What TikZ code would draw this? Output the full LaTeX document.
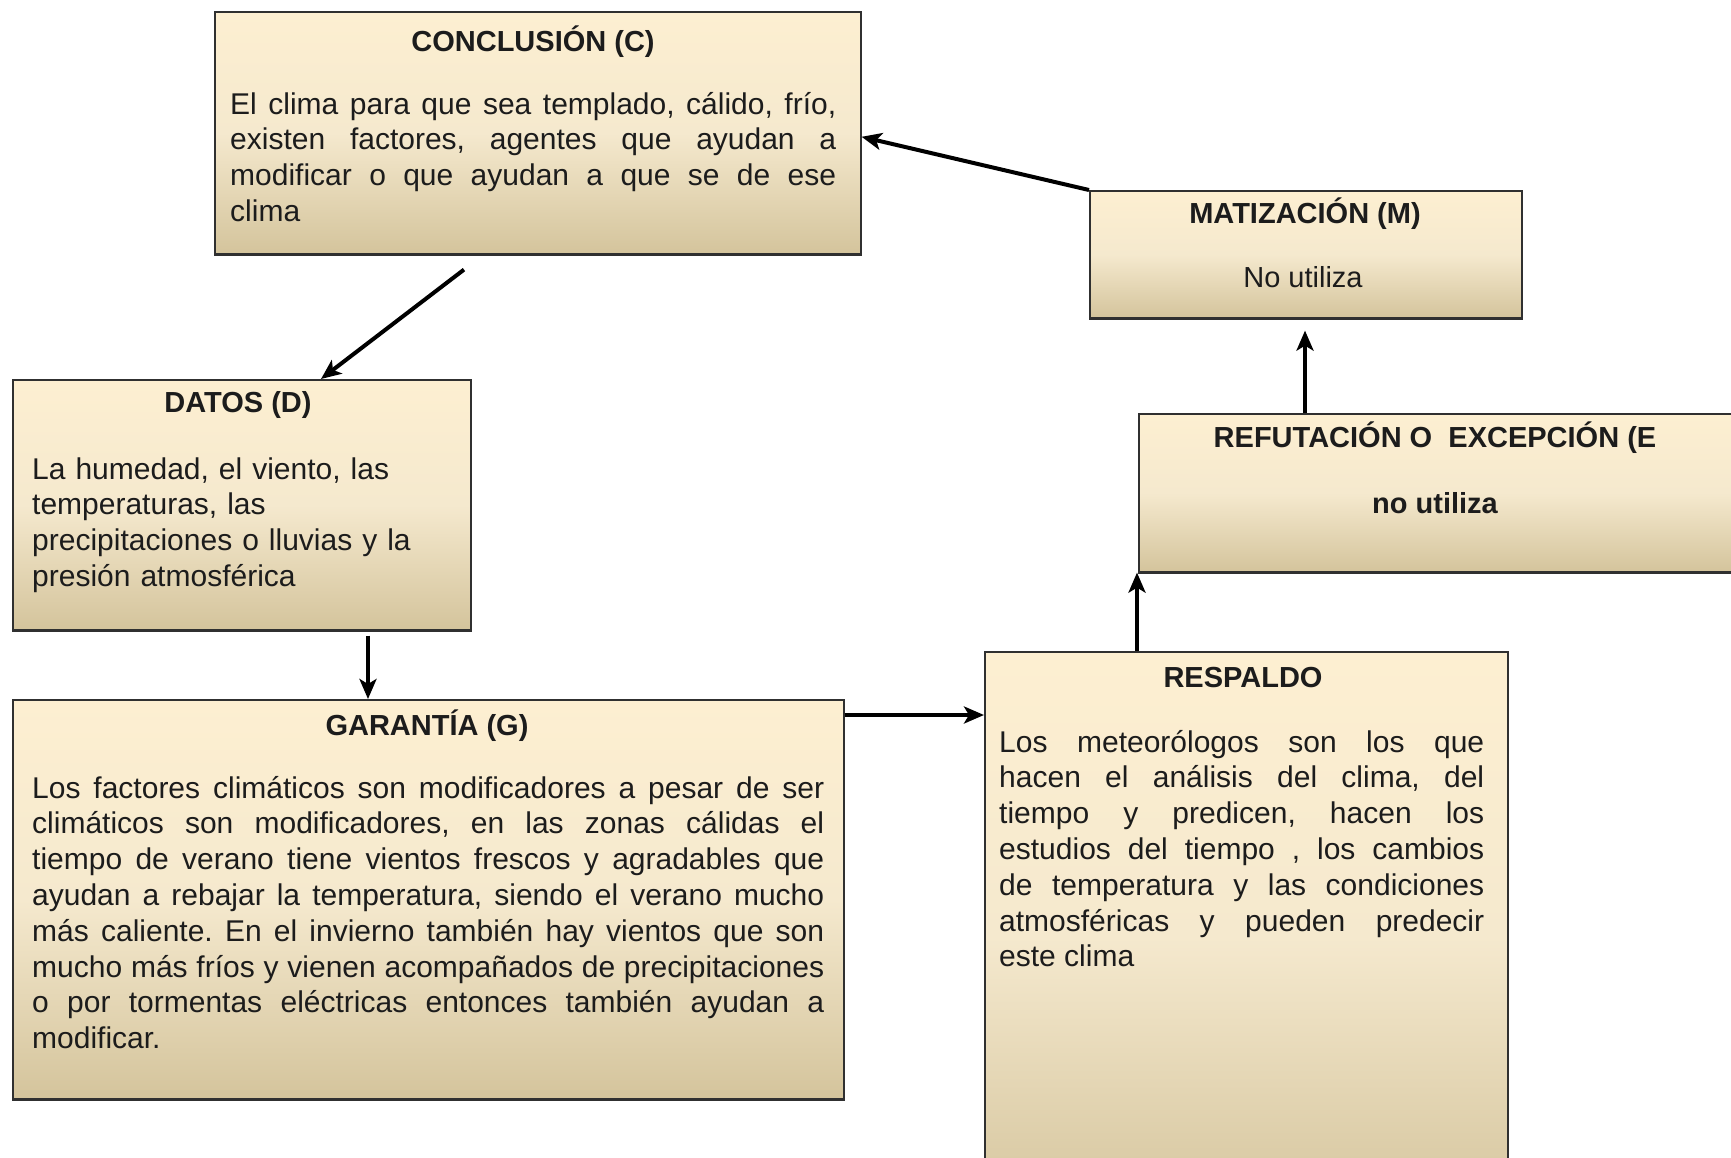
\documentclass[tikz,border=0pt]{standalone}
\usepackage{fontspec}
\setmainfont{Liberation Sans}
\usetikzlibrary{arrows.meta}
\frenchspacing

\definecolor{boxtop}{RGB}{253,239,209}
\definecolor{boxmid}{RGB}{245,233,206}
\definecolor{boxbot}{RGB}{212,196,156}
\definecolor{edge}{RGB}{48,48,48}
\definecolor{ink}{RGB}{28,28,28}

% cream panel fading to tan towards the bottom edge
\pgfdeclareverticalshading{cream}{100bp}{color(0bp)=(boxbot); color(25bp)=(boxbot); color(50bp)=(boxmid); color(75bp)=(boxtop); color(100bp)=(boxtop)}

\tikzset{
  panel/.style={rectangle, draw=edge, line width=1.6pt, shading=cream,
    inner sep=0pt, anchor=north west},
  title/.style={font=\fontsize{29}{34}\selectfont\bfseries, text=ink, inner sep=0pt},
  plain/.style={font=\fontsize{29}{34}\selectfont, text=ink, inner sep=0pt},
  body/.style={font=\fontsize{30}{35.8}\selectfont, text=ink, inner sep=0pt,
    anchor=base west},
  link/.style={line width=4pt, draw=black,
    -{Stealth[length=20pt,width=17pt,inset=5pt]}}
}

\begin{document}
\begin{tikzpicture}[x=1pt,y=-1pt]
\useasboundingbox (0,0) rectangle (1731,1157);
\fill[white] (0,0) rectangle (1731,1157);
\clip (0,0) rectangle (1731,1157);

% panels
\node[panel, minimum width=646pt, minimum height=242pt] (C) at (214,11) {};
\node[panel, minimum width=432pt, minimum height=127pt] (M) at (1089,190) {};
\node[panel, minimum width=662pt, minimum height=158pt] (E) at (1138,413) {};
\node[panel, minimum width=458pt, minimum height=250pt] (D) at (12,379) {};
\node[panel, minimum width=831pt, minimum height=399pt] (G) at (12,699) {};
\node[panel, minimum width=523pt, minimum height=569pt] (R) at (984,651) {};

% heavier lower edges
\foreach \b in {C,M,E,D,G}
  \draw[edge, line width=3.5pt] (\b.south west) -- (\b.south east);

% CONCLUSIÓN
\node[title] (Ct) at (533,42) {CONCLUSIÓN (C)};
\node[body, text width=606pt, align=justify] (Cb) at (230,114)
  {El clima para que sea templado, cálido, frío,\linebreak
   existen factores, agentes que ayudan a\linebreak
   modificar o que ayudan a que se de ese\linebreak
   clima};

% MATIZACIÓN
\node[title] (Mt) at (1305,214) {MATIZACIÓN (M)};
\node[plain] (Mb) at (1303,277) {No utiliza};

% REFUTACIÓN
\node[title] (Et) at (1435,438) {REFUTACIÓN O\ \ EXCEPCIÓN (E};
\node[title] (Eb) at (1435,503) {no utiliza};

% DATOS
\node[title] (Dt) at (238,405) {DATOS (D)};
\node[body, text width=430pt, align=left] (Db) at (32,479)
  {La humedad, el viento, las\\
   temperaturas, las\\
   precipitaciones o lluvias y la\\
   presión atmosférica};

% GARANTÍA
\node[title] (Gt) at (427,726) {GARANTÍA (G)};
\node[body, text width=792pt, align=justify] (Gb) at (32,798)
  {Los factores climáticos son modificadores a pesar de ser\linebreak
   climáticos son modificadores, en las zonas cálidas el\linebreak
   tiempo de verano tiene vientos frescos y agradables que\linebreak
   ayudan a rebajar la temperatura, siendo el verano mucho\linebreak
   más caliente. En el invierno también hay vientos que son\linebreak
   mucho más fríos y vienen acompañados de precipitaciones\linebreak
   o por tormentas eléctricas entonces también ayudan a\linebreak
   modificar.};

% RESPALDO
\node[title] (Rt) at (1243,678) {RESPALDO};
\node[body, text width=485pt, align=justify] (Rb) at (999,752)
  {Los meteorólogos son los que\linebreak
   hacen el análisis del clima, del\linebreak
   tiempo y predicen, hacen los\linebreak
   estudios del tiempo , los cambios\linebreak
   de temperatura y las condiciones\linebreak
   atmosféricas y pueden predecir\linebreak
   este clima};

% connectors
\draw[link] (M.north west) -- ([yshift=-4pt]C.east);
\draw[link] ([xshift=250pt,yshift=-15pt]C.south west) -- ([xshift=309pt]D.north west);
\draw[link] ([xshift=356pt,yshift=-5pt]D.south west) -- ([xshift=356pt]G.north west);
\draw[link] ([yshift=-16pt]G.north east) -- ([yshift=-64pt]R.north west);
\draw[link] ([xshift=153pt]R.north west) -- ([xshift=-1pt]E.south west);
\draw[link] ([xshift=167pt]E.north west) -- ([xshift=216pt,yshift=-12pt]M.south west);
\end{tikzpicture}
\end{document}
